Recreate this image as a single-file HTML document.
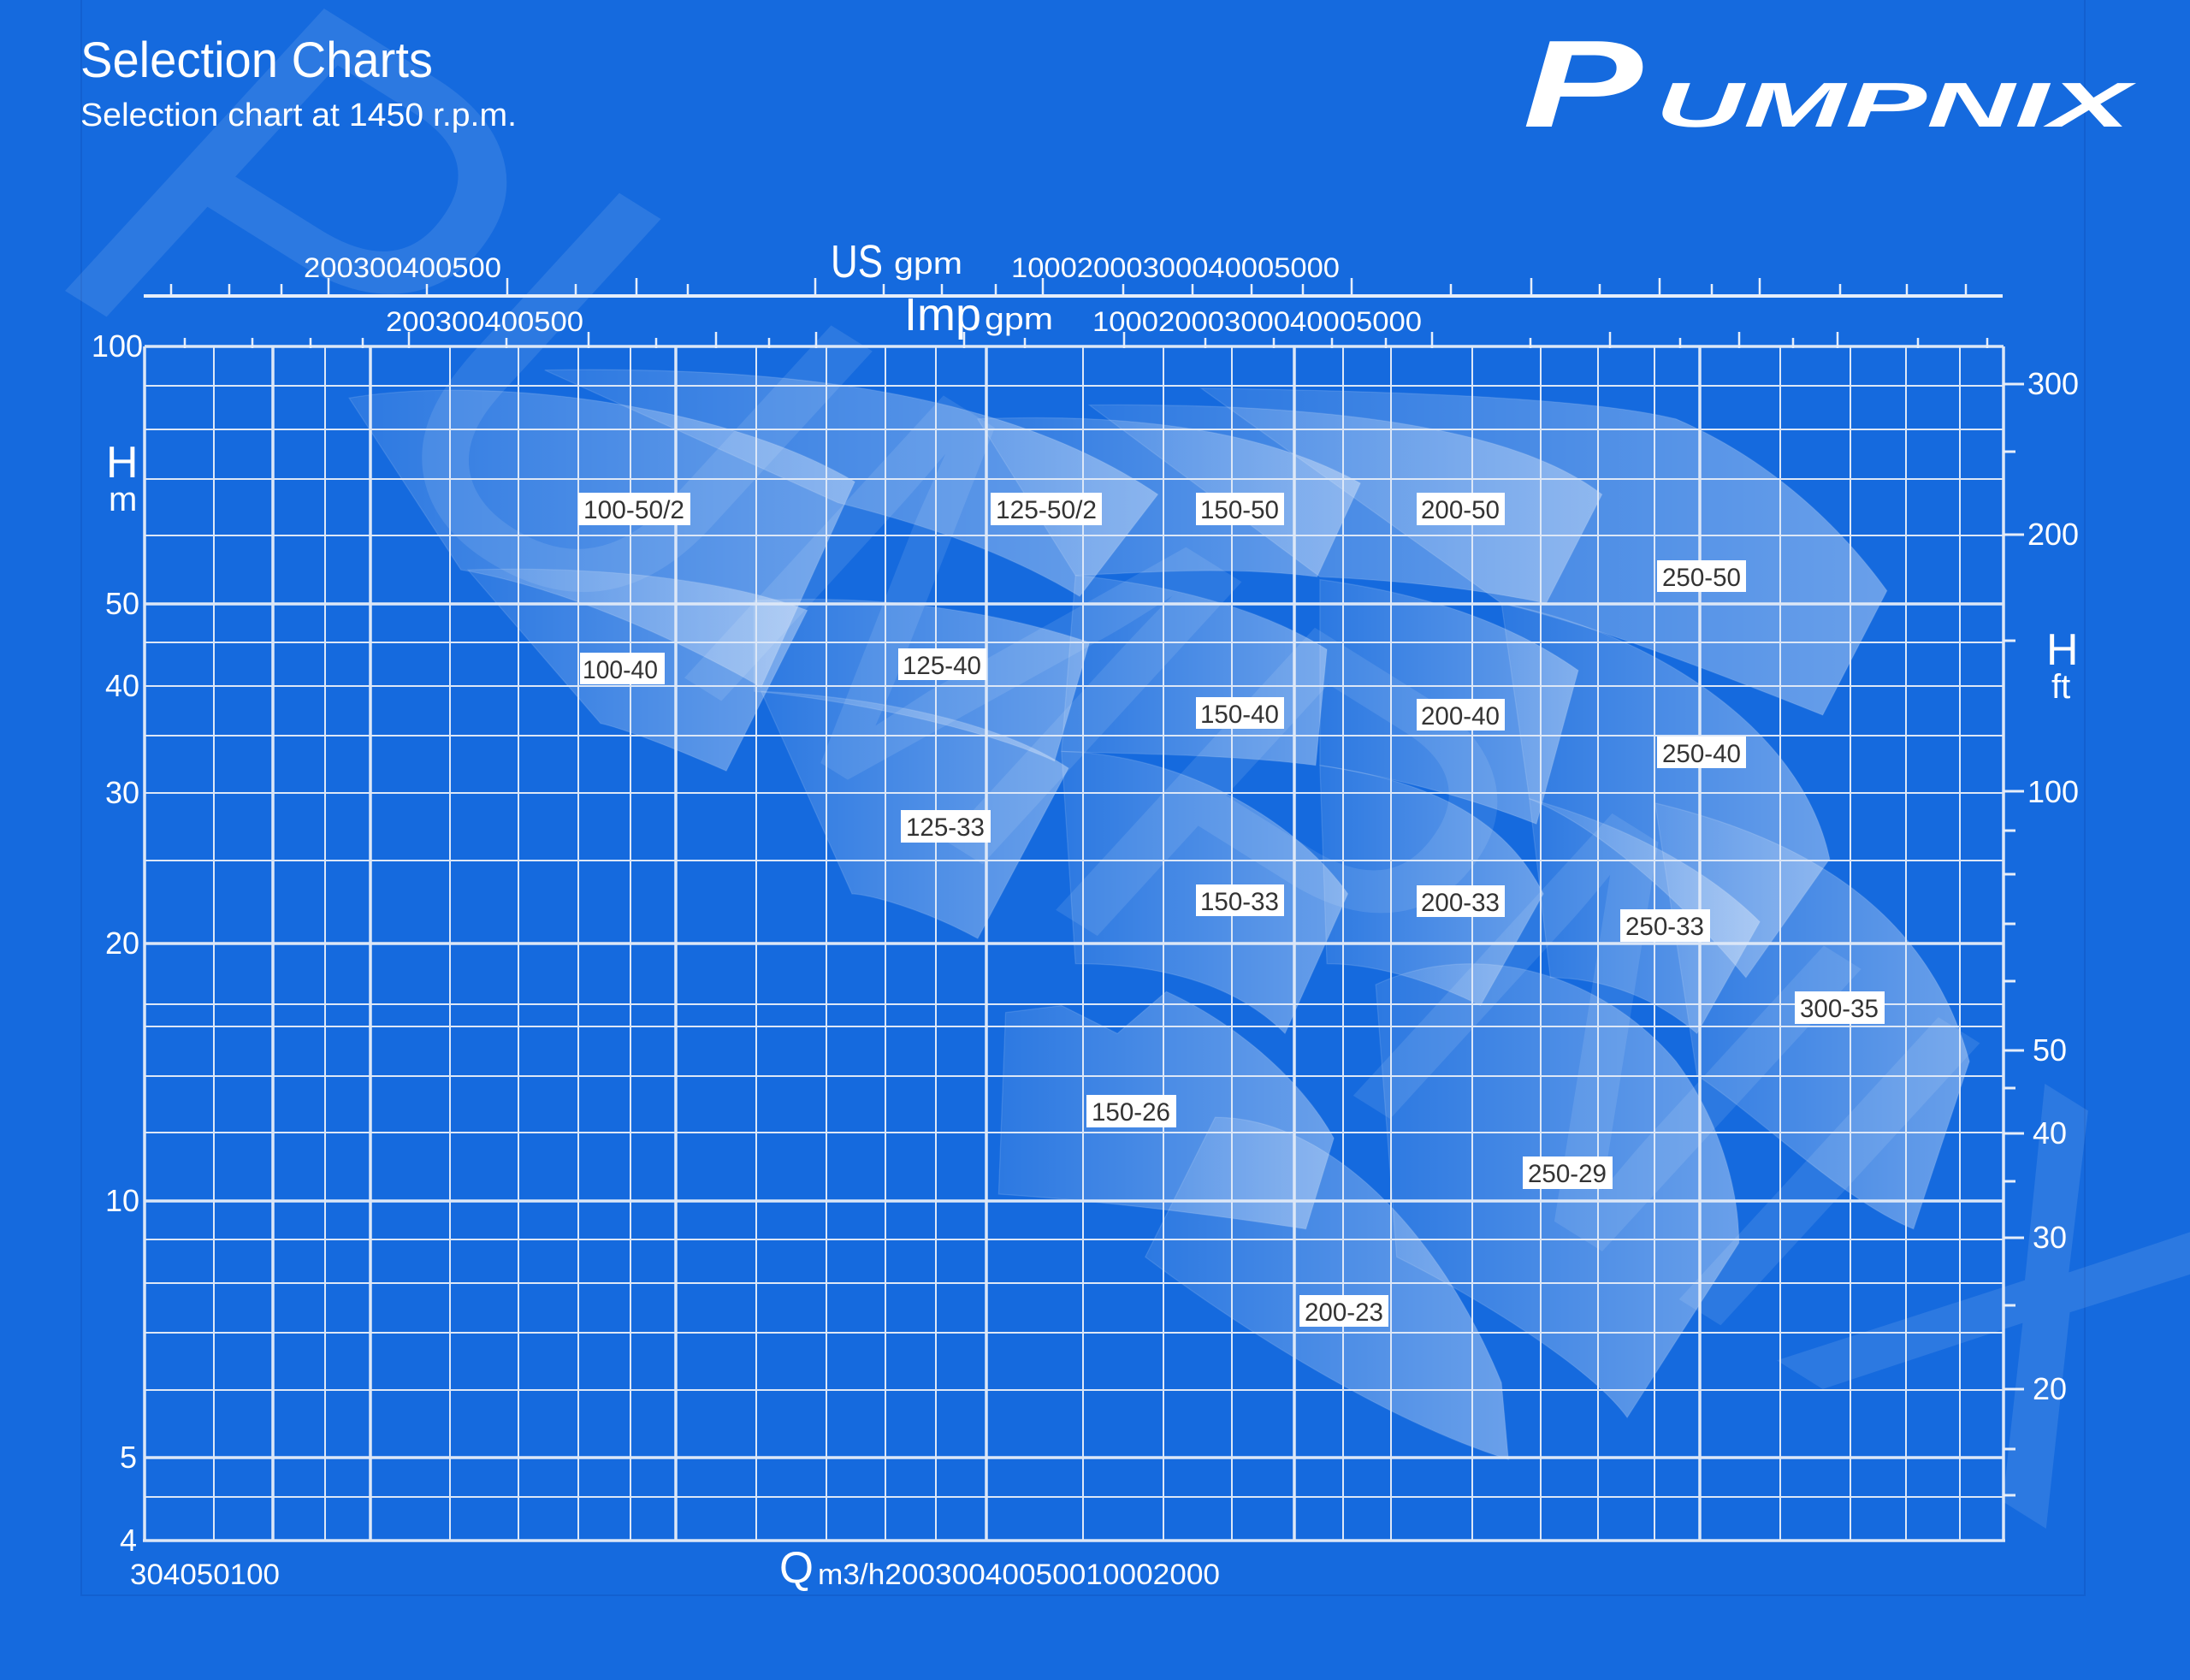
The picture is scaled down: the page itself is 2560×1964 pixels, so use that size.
<!DOCTYPE html>
<html><head><meta charset="utf-8"><style>
html,body{margin:0;padding:0;background:#156ade;}
svg{display:block;}
text{font-family:"Liberation Sans",sans-serif;}
</style></head><body>
<svg width="2560" height="1964" viewBox="0 0 2560 1964" xmlns="http://www.w3.org/2000/svg">
<defs>
<linearGradient id="pg" x1="0" y1="0" x2="1" y2="0">
<stop offset="0" stop-color="#fff" stop-opacity="0.10"/>
<stop offset="1" stop-color="#fff" stop-opacity="0.36"/>
</linearGradient>
</defs>
<rect width="2560" height="1964" fill="#156ade"/>
<rect x="95" y="-2" width="2342" height="1867" fill="none" stroke="#1260d0" stroke-width="2"/>

<!-- watermark -->
<text x="0" y="0" transform="translate(60,330) rotate(32)" font-size="640" font-style="italic" fill="#ffffff" fill-opacity="0.10" textLength="2800" lengthAdjust="spacingAndGlyphs">PUMPNIX</text>

<!-- pump curves (display coords scaled) -->
<g transform="scale(1.6327)" fill="url(#pg)" stroke="#ffffff" stroke-opacity="0.12" stroke-width="0.8">
<path d="M250,285 C350,268 520,290 612,345 L545,492 C480,455 400,420 330,408 Z"/>
<path d="M390,265 C560,262 720,280 829,354 L773,427 C720,395 660,375 600,360 Z"/>
<path d="M700,300 C800,296 900,305 974,346 L943,413 C880,405 820,410 770,412 Z"/>
<path d="M780,290 C1000,288 1100,318 1147,354 L1107,432 C1050,420 990,415 945,413 Z"/>
<path d="M860,278 C1000,280 1140,285 1200,300 C1270,330 1320,380 1351,423 L1305,512 C1200,470 1130,445 1075,432 Z"/>
<path d="M335,408 C430,405 520,415 578,437 L520,552 C470,530 440,520 430,518 Z"/>
<path d="M540,430 C640,425 720,440 780,460 L755,545 C700,520 600,500 540,495 Z"/>
<path d="M770,412 C850,420 910,440 950,465 L942,548 C880,540 810,540 760,538 Z"/>
<path d="M945,415 C1020,425 1080,445 1130,480 L1100,590 C1050,570 990,555 945,548 Z"/>
<path d="M1075,432 C1180,452 1290,520 1310,615 L1250,700 C1200,640 1140,590 1095,572 Z"/>
<path d="M545,495 C640,500 720,520 765,550 L700,672 C660,650 620,640 610,640 Z"/>
<path d="M760,538 C850,540 930,590 965,640 L920,740 C880,700 820,690 770,690 Z"/>
<path d="M945,548 C1030,560 1080,590 1105,640 L1060,720 C1020,700 980,690 950,690 Z"/>
<path d="M1095,572 C1160,590 1220,620 1260,660 L1215,740 C1180,710 1140,700 1110,700 Z"/>
<path d="M1185,575 C1290,600 1380,650 1410,760 L1370,880 C1320,860 1260,800 1215,770 Z"/>
<path d="M720,725 L760,720 L800,740 L835,710 C880,730 930,770 955,815 L935,880 C870,870 790,860 715,855 Z"/>
<path d="M985,705 C1060,670 1150,700 1200,760 C1230,800 1245,850 1245,890 L1165,1015 C1140,980 1060,930 1000,900 Z"/>
<path d="M870,800 C950,800 1030,880 1075,990 L1080,1045 C1000,1020 900,960 820,900 Z"/>
</g>

<!-- grid horizontal -->
<g stroke="#dce7f7" stroke-width="2">
<line x1="169" x2="2342" y1="451" y2="451"/><line x1="169" x2="2342" y1="502" y2="502"/>
<line x1="169" x2="2342" y1="560" y2="560"/><line x1="169" x2="2342" y1="626" y2="626"/>
<line x1="169" x2="2342" y1="751" y2="751"/><line x1="169" x2="2342" y1="802" y2="802"/>
<line x1="169" x2="2342" y1="860" y2="860"/><line x1="169" x2="2342" y1="927" y2="927"/>
<line x1="169" x2="2342" y1="1006" y2="1006"/><line x1="169" x2="2342" y1="1174" y2="1174"/>
<line x1="169" x2="2342" y1="1200" y2="1200"/><line x1="169" x2="2342" y1="1258" y2="1258"/>
<line x1="169" x2="2342" y1="1324" y2="1324"/><line x1="169" x2="2342" y1="1449" y2="1449"/>
<line x1="169" x2="2342" y1="1500" y2="1500"/><line x1="169" x2="2342" y1="1558" y2="1558"/>
<line x1="169" x2="2342" y1="1625" y2="1625"/><line x1="169" x2="2342" y1="1750" y2="1750"/>
</g>
<g stroke="#dce7f7" stroke-width="3.5">
<line x1="169" x2="2342" y1="706" y2="706"/><line x1="169" x2="2342" y1="1103" y2="1103"/>
<line x1="169" x2="2342" y1="1404" y2="1404"/><line x1="169" x2="2342" y1="1704" y2="1704"/>
<line x1="169" x2="2342" y1="405" y2="405"/><line x1="167" x2="2344" y1="1801" y2="1801"/>
</g>
<!-- grid vertical -->
<g stroke="#dce7f7" stroke-width="2">
<line x1="250" x2="250" y1="405" y2="1801"/><line x1="380" x2="380" y1="405" y2="1801"/>
<line x1="526" x2="526" y1="405" y2="1801"/><line x1="606" x2="606" y1="405" y2="1801"/>
<line x1="676" x2="676" y1="405" y2="1801"/><line x1="737" x2="737" y1="405" y2="1801"/>
<line x1="884" x2="884" y1="405" y2="1801"/><line x1="966" x2="966" y1="405" y2="1801"/>
<line x1="1035" x2="1035" y1="405" y2="1801"/><line x1="1094" x2="1094" y1="405" y2="1801"/>
<line x1="1266" x2="1266" y1="405" y2="1801"/><line x1="1360" x2="1360" y1="405" y2="1801"/>
<line x1="1440" x2="1440" y1="405" y2="1801"/><line x1="1570" x2="1570" y1="405" y2="1801"/>
<line x1="1626" x2="1626" y1="405" y2="1801"/><line x1="1721" x2="1721" y1="405" y2="1801"/>
<line x1="1801" x2="1801" y1="405" y2="1801"/><line x1="1868" x2="1868" y1="405" y2="1801"/>
<line x1="1934" x2="1934" y1="405" y2="1801"/><line x1="2081" x2="2081" y1="405" y2="1801"/>
<line x1="2163" x2="2163" y1="405" y2="1801"/><line x1="2228" x2="2228" y1="405" y2="1801"/>
<line x1="2291" x2="2291" y1="405" y2="1801"/>
</g>
<g stroke="#dce7f7" stroke-width="3.5">
<line x1="169" x2="169" y1="405" y2="1801"/><line x1="319" x2="319" y1="405" y2="1801"/>
<line x1="433" x2="433" y1="405" y2="1801"/><line x1="790" x2="790" y1="405" y2="1801"/>
<line x1="1153" x2="1153" y1="405" y2="1801"/><line x1="1513" x2="1513" y1="405" y2="1801"/>
<line x1="1987" x2="1987" y1="405" y2="1801"/><line x1="2342" x2="2342" y1="405" y2="1801"/>
</g>

<!-- US axis -->
<line x1="168" x2="2341" y1="346" y2="346" stroke="#e6eefa" stroke-width="4"/>
<g stroke="#e6eefa" stroke-width="2.5">
<line x1="200" x2="200" y1="332" y2="346"/><line x1="268" x2="268" y1="332" y2="346"/><line x1="329" x2="329" y1="332" y2="346"/>
<line x1="384" x2="384" y1="325" y2="346"/><line x1="499" x2="499" y1="332" y2="346"/><line x1="593" x2="593" y1="325" y2="346"/>
<line x1="673" x2="673" y1="332" y2="346"/><line x1="744" x2="744" y1="325" y2="346"/><line x1="804" x2="804" y1="332" y2="346"/>
<line x1="953" x2="953" y1="325" y2="346"/><line x1="1033" x2="1033" y1="332" y2="346"/><line x1="1101" x2="1101" y1="332" y2="346"/>
<line x1="1164" x2="1164" y1="332" y2="346"/><line x1="1219" x2="1219" y1="325" y2="346"/><line x1="1313" x2="1313" y1="332" y2="346"/>
<line x1="1394" x2="1394" y1="332" y2="346"/><line x1="1463" x2="1463" y1="332" y2="346"/><line x1="1523" x2="1523" y1="332" y2="346"/>
<line x1="1580" x2="1580" y1="325" y2="346"/><line x1="1696" x2="1696" y1="332" y2="346"/><line x1="1790" x2="1790" y1="325" y2="346"/>
<line x1="1870" x2="1870" y1="332" y2="346"/><line x1="1940" x2="1940" y1="325" y2="346"/><line x1="2001" x2="2001" y1="332" y2="346"/>
<line x1="2057" x2="2057" y1="325" y2="346"/><line x1="2151" x2="2151" y1="332" y2="346"/><line x1="2229" x2="2229" y1="332" y2="346"/>
<line x1="2298" x2="2298" y1="332" y2="346"/>
</g>
<!-- Imp axis ticks -->
<g stroke="#e6eefa" stroke-width="2.5">
<line x1="216" x2="216" y1="395" y2="407"/><line x1="295" x2="295" y1="395" y2="407"/><line x1="363" x2="363" y1="395" y2="407"/>
<line x1="424" x2="424" y1="395" y2="407"/><line x1="478" x2="478" y1="388" y2="407"/><line x1="592" x2="592" y1="395" y2="407"/>
<line x1="688" x2="688" y1="388" y2="407"/><line x1="767" x2="767" y1="395" y2="407"/><line x1="837" x2="837" y1="388" y2="407"/>
<line x1="899" x2="899" y1="395" y2="407"/><line x1="954" x2="954" y1="388" y2="407"/><line x1="1127" x2="1127" y1="388" y2="407"/>
<line x1="1198" x2="1198" y1="395" y2="407"/><line x1="1314" x2="1314" y1="388" y2="407"/><line x1="1409" x2="1409" y1="395" y2="407"/>
<line x1="1489" x2="1489" y1="395" y2="407"/><line x1="1557" x2="1557" y1="395" y2="407"/><line x1="1620" x2="1620" y1="395" y2="407"/>
<line x1="1674" x2="1674" y1="388" y2="407"/><line x1="1789" x2="1789" y1="395" y2="407"/><line x1="1882" x2="1882" y1="388" y2="407"/>
<line x1="1964" x2="1964" y1="395" y2="407"/><line x1="2033" x2="2033" y1="388" y2="407"/><line x1="2096" x2="2096" y1="395" y2="407"/>
<line x1="2148" x2="2148" y1="388" y2="407"/><line x1="2242" x2="2242" y1="395" y2="407"/><line x1="2323" x2="2323" y1="395" y2="407"/>
</g>
<!-- right axis ticks -->
<g stroke="#e6eefa" stroke-width="3">
<line x1="2342" x2="2366" y1="449" y2="449"/><line x1="2342" x2="2356" y1="528" y2="528"/><line x1="2342" x2="2366" y1="625" y2="625"/>
<line x1="2342" x2="2356" y1="749" y2="749"/><line x1="2342" x2="2366" y1="925" y2="925"/><line x1="2342" x2="2356" y1="971" y2="971"/>
<line x1="2342" x2="2356" y1="1022" y2="1022"/><line x1="2342" x2="2356" y1="1080" y2="1080"/><line x1="2342" x2="2356" y1="1147" y2="1147"/>
<line x1="2342" x2="2366" y1="1228" y2="1228"/><line x1="2342" x2="2356" y1="1272" y2="1272"/><line x1="2342" x2="2366" y1="1325" y2="1325"/>
<line x1="2342" x2="2356" y1="1381" y2="1381"/><line x1="2342" x2="2366" y1="1447" y2="1447"/><line x1="2342" x2="2356" y1="1526" y2="1526"/>
<line x1="2342" x2="2366" y1="1624" y2="1624"/><line x1="2342" x2="2356" y1="1694" y2="1694"/><line x1="2342" x2="2356" y1="1748" y2="1748"/>
</g>

<!-- header -->
<text x="94" y="90" font-size="58" fill="#fff" textLength="412" lengthAdjust="spacingAndGlyphs">Selection Charts</text>
<text x="94" y="147" font-size="38" fill="#fff" textLength="510" lengthAdjust="spacingAndGlyphs">Selection chart at 1450 r.p.m.</text>
<text x="1780" y="148" font-size="145" font-weight="bold" font-style="italic" fill="#fff" textLength="140" lengthAdjust="spacingAndGlyphs">P</text>
<text x="1935" y="148" font-size="74" font-weight="bold" font-style="italic" fill="#fff" textLength="555" lengthAdjust="spacingAndGlyphs">UMPNIX</text>

<!-- axis texts -->
<g fill="#fff">
<text x="355" y="324" font-size="32" textLength="231" lengthAdjust="spacingAndGlyphs">200300400500</text>
<text x="971" y="324" font-size="54" textLength="61" lengthAdjust="spacingAndGlyphs">US</text>
<text x="1045" y="320" font-size="36" textLength="80" lengthAdjust="spacingAndGlyphs">gpm</text>
<text x="1182" y="324" font-size="32" textLength="384" lengthAdjust="spacingAndGlyphs">10002000300040005000</text>
<text x="451" y="387" font-size="32" textLength="231" lengthAdjust="spacingAndGlyphs">200300400500</text>
<text x="1057" y="386" font-size="54" textLength="90" lengthAdjust="spacingAndGlyphs">Imp</text>
<text x="1151" y="385" font-size="36" textLength="80" lengthAdjust="spacingAndGlyphs">gpm</text>
<text x="1277" y="387" font-size="32" textLength="385" lengthAdjust="spacingAndGlyphs">10002000300040005000</text>

<text x="152" y="1852" font-size="34" textLength="175" lengthAdjust="spacingAndGlyphs">304050100</text>
<text x="911" y="1850" font-size="52" textLength="40" lengthAdjust="spacingAndGlyphs">Q</text>
<text x="956" y="1852" font-size="34" textLength="470" lengthAdjust="spacingAndGlyphs">m3/h20030040050010002000</text>

<g font-size="36" text-anchor="end">
<text x="167" y="417">100</text><text x="163" y="718">50</text><text x="163" y="814">40</text>
<text x="163" y="939">30</text><text x="163" y="1115">20</text><text x="163" y="1416">10</text>
<text x="160" y="1716">5</text><text x="160" y="1813">4</text>
</g>
<text x="124" y="558" font-size="52">H</text>
<text x="127" y="597" font-size="40">m</text>
<g font-size="36">
<text x="2370" y="461">300</text><text x="2370" y="637">200</text><text x="2370" y="938">100</text>
<text x="2376" y="1240">50</text><text x="2376" y="1337">40</text><text x="2376" y="1459">30</text>
<text x="2376" y="1636">20</text>
</g>
<text x="2392" y="777" font-size="52">H</text>
<text x="2398" y="816" font-size="40">ft</text>
</g>

<!-- labels -->
<g font-size="30" fill="#333" text-anchor="middle">
<rect x="676" y="576" width="131" height="38" fill="#fff"/><text x="741" y="606" textLength="118" lengthAdjust="spacingAndGlyphs">100-50/2</text>
<rect x="1158" y="576" width="130" height="38" fill="#fff"/><text x="1223" y="606" textLength="118" lengthAdjust="spacingAndGlyphs">125-50/2</text>
<rect x="1398" y="576" width="103" height="38" fill="#fff"/><text x="1449" y="606" textLength="92" lengthAdjust="spacingAndGlyphs">150-50</text>
<rect x="1656" y="576" width="103" height="38" fill="#fff"/><text x="1707" y="606" textLength="92" lengthAdjust="spacingAndGlyphs">200-50</text>
<rect x="1937" y="655" width="104" height="37" fill="#fff"/><text x="1989" y="685" textLength="92" lengthAdjust="spacingAndGlyphs">250-50</text>
<rect x="678" y="763" width="99" height="37" fill="#fff"/><text x="725" y="793" textLength="88" lengthAdjust="spacingAndGlyphs">100-40</text>
<rect x="1050" y="758" width="103" height="37" fill="#fff"/><text x="1101" y="788" textLength="92" lengthAdjust="spacingAndGlyphs">125-40</text>
<rect x="1398" y="815" width="103" height="37" fill="#fff"/><text x="1449" y="845" textLength="92" lengthAdjust="spacingAndGlyphs">150-40</text>
<rect x="1656" y="817" width="103" height="37" fill="#fff"/><text x="1707" y="847" textLength="92" lengthAdjust="spacingAndGlyphs">200-40</text>
<rect x="1937" y="861" width="104" height="37" fill="#fff"/><text x="1989" y="891" textLength="92" lengthAdjust="spacingAndGlyphs">250-40</text>
<rect x="1053" y="947" width="105" height="38" fill="#fff"/><text x="1105" y="977" textLength="92" lengthAdjust="spacingAndGlyphs">125-33</text>
<rect x="1398" y="1034" width="103" height="37" fill="#fff"/><text x="1449" y="1064" textLength="92" lengthAdjust="spacingAndGlyphs">150-33</text>
<rect x="1656" y="1035" width="103" height="37" fill="#fff"/><text x="1707" y="1065" textLength="92" lengthAdjust="spacingAndGlyphs">200-33</text>
<rect x="1894" y="1063" width="105" height="38" fill="#fff"/><text x="1946" y="1093" textLength="92" lengthAdjust="spacingAndGlyphs">250-33</text>
<rect x="2098" y="1159" width="105" height="38" fill="#fff"/><text x="2150" y="1189" textLength="92" lengthAdjust="spacingAndGlyphs">300-35</text>
<rect x="1270" y="1280" width="105" height="38" fill="#fff"/><text x="1322" y="1310" textLength="92" lengthAdjust="spacingAndGlyphs">150-26</text>
<rect x="1780" y="1352" width="105" height="38" fill="#fff"/><text x="1832" y="1382" textLength="92" lengthAdjust="spacingAndGlyphs">250-29</text>
<rect x="1519" y="1514" width="104" height="37" fill="#fff"/><text x="1571" y="1544" textLength="92" lengthAdjust="spacingAndGlyphs">200-23</text>
</g>
</svg>
</body></html>
